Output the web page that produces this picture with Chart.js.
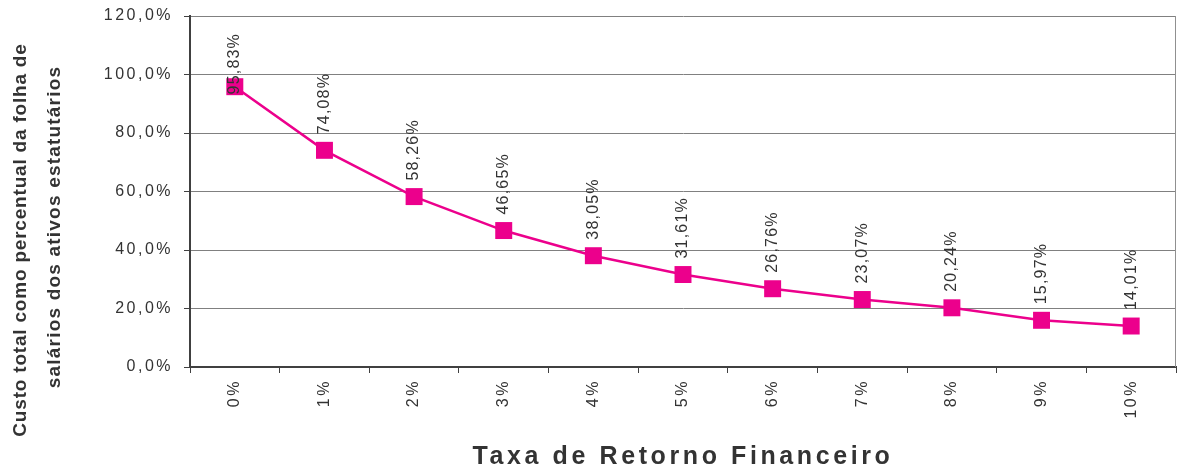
<!DOCTYPE html>
<html>
<head>
<meta charset="utf-8">
<script src="https://cdn.jsdelivr.net/npm/chart.js@4"></script>
<style>
  html, body { margin: 0; padding: 0; background: #fff; }
  #wrap { width: 1177px; height: 471px; }
</style>
</head>
<body>
<div id="wrap"><canvas id="grafico"></canvas></div>
<script>
// dados
var taxas = ['0%', '1%', '2%', '3%', '4%', '5%', '6%', '7%', '8%', '9%', '10%'];
var custos = [95.83, 74.08, 58.26, 46.65, 38.05, 31.61, 26.76, 23.07, 20.24, 15.97, 14.01];
var rotulos = ['95,83%', '74,08%', '58,26%', '46,65%', '38,05%', '31,61%', '26,76%', '23,07%', '20,24%', '15,97%', '14,01%'];
var tituloY = ['Custo total como percentual da folha de', 'salários dos ativos estatutários'];
var tituloX = 'Taxa de Retorno Financeiro';

var rosa = '#EC008C';
var cinzaEscuro = '#404040';
var texto = '#333333';
var fonte = '"Liberation Sans", Arial, sans-serif';

function formatarPct(v) {
  return v.toFixed(1).replace('.', ',') + '%';
}

// espaçamento de letras, rótulos, títulos e borda
var extras = {
  id: 'extras',
  beforeDraw: function (chart) {
    chart.ctx.letterSpacing = '2.5px';
  },
  afterDraw: function (chart) {
    var ctx = chart.ctx;
    var area = chart.chartArea;

    // borda direita
    ctx.save();
    ctx.strokeStyle = '#909090';
    ctx.lineWidth = 1;
    ctx.beginPath();
    ctx.moveTo(area.right - 0.5, area.top);
    ctx.lineTo(area.right - 0.5, area.bottom);
    ctx.stroke();
    ctx.restore();

    // rótulos dos pontos
    var meta = chart.getDatasetMeta(0);
    ctx.save();
    ctx.font = '16px ' + fonte;
    ctx.letterSpacing = '1.2px';
    ctx.fillStyle = texto;
    ctx.textAlign = 'left';
    ctx.textBaseline = 'middle';
    meta.data.forEach(function (pt, i) {
      var w = ctx.measureText(rotulos[i]).width;
      var inicio = pt.y - 16;
      if (inicio - w < area.top + 17) inicio = area.top + 17 + w;
      ctx.save();
      ctx.translate(pt.x, inicio);
      ctx.rotate(-Math.PI / 2);
      ctx.fillText(rotulos[i], 0, 0);
      ctx.restore();
    });
    ctx.restore();

    // título do eixo Y
    ctx.save();
    ctx.font = 'bold 19px ' + fonte;
    ctx.fillStyle = texto;
    ctx.textAlign = 'center';
    ctx.textBaseline = 'middle';
    ctx.translate(21, 240);
    ctx.rotate(-Math.PI / 2);
    ctx.letterSpacing = '0.8px';
    ctx.fillText(tituloY[0], 0, 0);
    ctx.letterSpacing = '1.2px';
    ctx.fillText(tituloY[1], 13, 34);
    ctx.restore();

    // título do eixo X
    ctx.save();
    ctx.font = 'bold 25px ' + fonte;
    ctx.letterSpacing = '3.6px';
    ctx.fillStyle = texto;
    ctx.textAlign = 'center';
    ctx.textBaseline = 'middle';
    ctx.fillText(tituloX, (area.left + area.right) / 2, 457);
    ctx.restore();
  }
};

var ctx = document.getElementById('grafico').getContext('2d');
var grafico = new Chart(ctx, {
  type: 'line',
  data: {
    labels: taxas,
    datasets: [{
      data: custos,
      borderColor: rosa,
      backgroundColor: rosa,
      borderWidth: 2.5,
      pointStyle: 'rect',
      pointRadius: 12,
      pointHoverRadius: 12,
      pointBorderWidth: 0,
      tension: 0
    }]
  },
  options: {
    responsive: true,
    maintainAspectRatio: false,
    animation: false,
    layout: { autoPadding: false, padding: { left: 75, right: 1, top: 16, bottom: 0 } },
    plugins: {
      legend: { display: false },
      tooltip: { enabled: false }
    },
    scales: {
      x: {
        offset: true,
        grid: {
          offset: true,
          drawOnChartArea: false,
          drawTicks: true,
          tickLength: 6,
          color: cinzaEscuro
        },
        border: { color: cinzaEscuro, width: 2 },
        ticks: {
          maxRotation: 90,
          minRotation: 90,
          padding: 6,
          color: texto,
          font: { family: fonte, size: 16 }
        },
        afterFit: function (scale) {
          scale.height = 104;
          scale.paddingLeft = 0;
          scale.paddingRight = 0;
        }
      },
      y: {
        min: 0,
        max: 120,
        ticks: {
          stepSize: 20,
          padding: 11,
          color: texto,
          font: { family: fonte, size: 16 },
          callback: function (v) { return formatarPct(v); }
        },
        grid: {
          color: '#808080',
          lineWidth: 1,
          tickLength: 6,
          tickColor: cinzaEscuro
        },
        border: { color: cinzaEscuro, width: 2 },
        afterFit: function (scale) {
          scale.width = 115;
          scale.paddingTop = 0;
          scale.paddingBottom = 0;
        }
      }
    }
  },
  plugins: [extras]
});
</script>
</body>
</html>
